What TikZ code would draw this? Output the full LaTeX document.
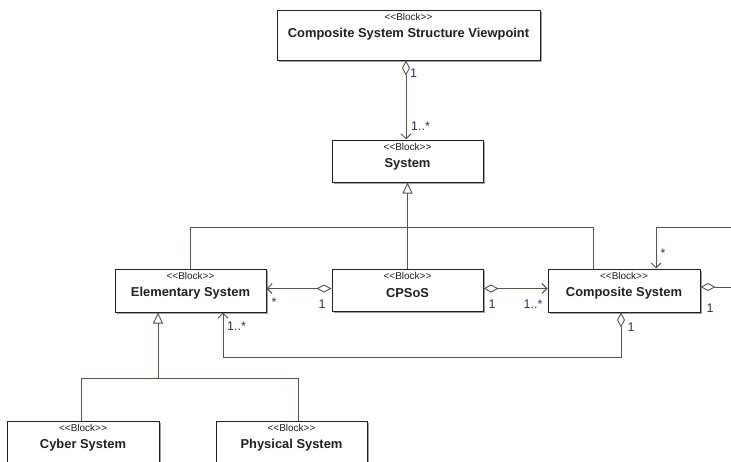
\documentclass[tikz,border=0pt]{standalone}
\usepackage{fontspec}
\setmainfont{Liberation Sans}
\usetikzlibrary{arrows.meta,shadows}
\definecolor{wire}{HTML}{5A5248}
\definecolor{edge}{HTML}{202020}
\definecolor{mult}{HTML}{2E2E5C}
\tikzset{
  x=1pt, y=-1pt,
  block/.style={draw=edge, line width=1pt, fill=white, inner sep=0pt,
    drop shadow={shadow xshift=1.6pt, shadow yshift=-1.6pt, fill=black!45, opacity=0.8}},
  stereo/.style={font=\fontsize{10}{11}\selectfont, text=edge, inner sep=0pt},
  bname/.style={font=\fontsize{12.9}{14}\selectfont\bfseries, text=edge, inner sep=0pt},
  wireline/.style={draw=wire, line width=0.9pt},
  agg/.style={wireline, {Diamond[open, length=15pt, width=8pt, fill=white]}-{Straight Barb[length=5pt, width=10pt]}},
  aggend/.style={wireline, {Diamond[open, length=15pt, width=8pt, fill=white]}-},
  nav/.style={wireline, -{Straight Barb[length=5pt, width=10pt]}},
  gen/.style={wireline, -{Triangle[open, length=11pt, width=10pt, fill=white]}},
  multl/.style={font=\fontsize{12.5}{13}\selectfont, text=mult, inner sep=0pt},
}
% a block: #1 name, #2 left, #3 top, #4 right, #5 bottom, #6 title
\newcommand{\umlblock}[6]{%
  \node[block, minimum width={#4-#2}, minimum height={#5-#3}] (#1) at ({(#2+#4)/2},{(#3+#5)/2}) {};
  \node[stereo] (#1-st) at ([yshift=-7.3pt]#1.north) {<{}<Block>{}>};
  \node[bname] (#1-nm) at ([yshift=-24.5pt]#1.north) {#6};
}
\begin{document}
\begin{tikzpicture}
\useasboundingbox (0,0) rectangle (731,461);
\clip (0,0) rectangle (731,461);

\umlblock{vp}{277}{10}{540}{60}{Composite System Structure Viewpoint}
\umlblock{sys}{332}{140}{483}{182}{System}
\umlblock{elem}{115}{269}{266}{312}{Elementary System}
\umlblock{cps}{332}{269}{483}{311}{CPSoS}
\umlblock{comp}{548}{269}{700}{312}{Composite System}
\umlblock{cyber}{7}{421}{159}{480}{Cyber System}
\umlblock{phys}{216}{421}{367}{480}{Physical System}

% routing points
\coordinate (bus) at (0,227);
\coordinate (busB) at (0,378);
\coordinate (ret) at (0,357);
\coordinate (loop) at (760,227);
\coordinate (offR) at (760,0);
\path ([xshift=-31pt]comp.north) coordinate (compG)
      ([xshift=32pt]comp.north) coordinate (compL)
      ([xshift=-3pt]comp.south) coordinate (compB)
      ([xshift=32.5pt]elem.south) coordinate (elemR)
      ([xshift=-32.5pt]elem.south) coordinate (elemG)
      ([xshift=-2pt]cyber.north) coordinate (cyG)
      ([xshift=6.5pt]phys.north) coordinate (phG)
      ([xshift=-2.5pt]vp.south) coordinate (vpA);

% viewpoint aggregates systems
\draw[agg] (vpA) -- (vpA |- sys.north);
\node[multl, anchor=west] (m1) at (410,73) {1};
\node[multl, anchor=west] (m2) at (411,126) {1..*};

% specialisations of System
\draw[gen] (cps.north) -- (sys.south);
\draw[wireline] (elem.north) |- (bus -| cps.north);
\draw[wireline] (compG) |- (bus -| cps.north);

% CPSoS aggregations
\draw[agg] ([yshift=1.5pt]cps.west) -- ([yshift=1.5pt]cps.west -| elem.east);
\node[multl] (m3) at (274,302) {*};
\node[multl] (m4) at (322,304) {1};
\draw[agg] ([yshift=1.5pt]cps.east) -- ([yshift=1.5pt]cps.east -| comp.west);
\node[multl] (m5) at (492,304) {1};
\node[multl] (m6) at (533,304) {1..*};

% Composite System relations
\draw[aggend] ([yshift=3.5pt]comp.east) -- ([yshift=3.5pt]comp.east -| offR);
\node[multl] (m7) at (710,308) {1};
\draw[nav] (loop) -| (compL);
\node[multl] (m8) at (663,253) {*};
\draw[wireline, {Diamond[open, length=15pt, width=8pt, fill=white]}-] (compB) |- (ret -| elemR);
\draw[nav] (ret -| elemR) -- (elemR);
\node[multl] (m9) at (631,327) {1};
\node[multl, anchor=west] (m10) at (227,326) {1..*};

% specialisations of Elementary System
\draw[gen] (elemG |- busB) -- (elemG);
\draw[wireline] (cyG) |- (busB -| phG) -- (phG);
\end{tikzpicture}
\end{document}
